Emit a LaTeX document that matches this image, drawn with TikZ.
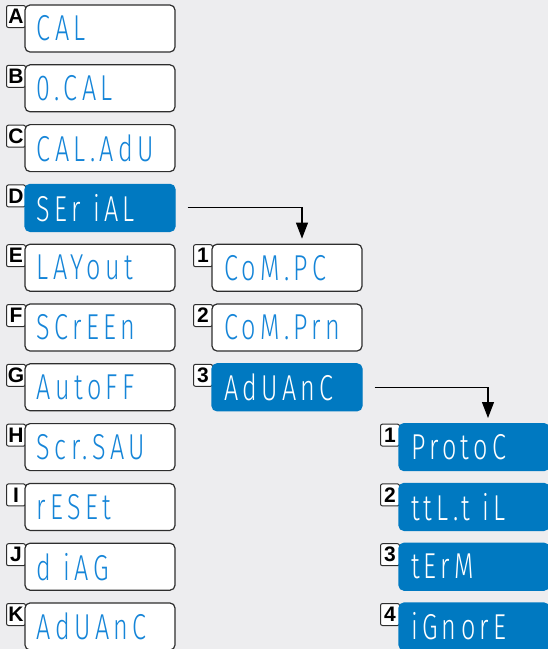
\documentclass[tikz,border=0pt]{standalone}
\usepackage{fontspec}
\setmainfont{Liberation Sans}
\newfontfamily\segfont[FakeStretch=0.7,LetterSpace=12]{Fira Sans Light}
\usetikzlibrary{arrows.meta}

\definecolor{panelgray}{HTML}{EDEDEF}
\definecolor{lcdblue}{HTML}{0079C1}
\definecolor{segblue}{HTML}{1585D8}
\definecolor{rimgray}{HTML}{2E2E2E}

\tikzset{
  lcd/.style={draw=rimgray, line width=1.2pt, rounded corners=5pt, fill=white,
    text=segblue, font=\segfont\fontsize{36}{36}\selectfont,
    text width=126pt, align=left, inner xsep=12pt, inner ysep=0pt, minimum height=47pt},
  lcdsel/.style={lcd, draw=lcdblue, fill=lcdblue, text=white},
  tag/.style={draw=rimgray, line width=1pt, fill=white, rounded corners=2pt,
    font=\bfseries\fontsize{21}{21}\selectfont, inner sep=0pt,
    minimum width=19pt, minimum height=22pt, anchor=north east},
  flow/.style={line width=1.1pt, -{Triangle[width=12pt,length=16pt]},
    shorten <=12pt, shorten >=5pt},
}

\begin{document}
\begin{tikzpicture}[x=1pt, y=-1pt]
  \useasboundingbox[fill=panelgray] (0,0) rectangle (548,649);
  % main menu
  \foreach \row/\tg/\txt/\kind in {0/A/CAL/lcd, 1/B/0.CAL/lcd, 2/C/CAL.AdU/lcd,
      3/D/SEr iAL/lcdsel, 4/E/LAYout/lcd, 5/F/SCrEEn/lcd, 6/G/AutoFF/lcd,
      7/H/Scr.SAU/lcd, 8/I/rESEt/lcd, 9/J/d iAG/lcd, 10/K/AdUAnC/lcd} {
    \node[tag] (tag\tg) at ({100-75+1},{28.5+59.8*\row-23.5}) {\tg};
    \node[\kind] (\tg) at (100,{28.5+59.8*\row}) {\txt};
  }
  % serial submenu
  \foreach \n/\txt/\kind in {1/CoM.PC/lcd, 2/CoM.Prn/lcd, 3/AdUAnC/lcdsel} {
    \node[tag] (tags\n) at ({287-75+1},{28.5+59.8*(\n+3)-23.5}) {\n};
    \node[\kind] (s\n) at (287,{28.5+59.8*(\n+3)}) {\txt};
  }
  % advanced submenu
  \foreach \n/\txt in {1/ProtoC, 2/ttL.t iL, 3/tErM, 4/iGnorE} {
    \node[tag] (taga\n) at ({474-75+1},{28.5+59.8*(\n+6)-23.5}) {\n};
    \node[lcdsel] (a\n) at (474,{28.5+59.8*(\n+6)}) {\txt};
  }
  \draw[flow] (D.east) -| ([xshift=15pt]s1.north);
  \draw[flow] (s3.east) -| ([xshift=14pt]a1.north);
\end{tikzpicture}
\end{document}
